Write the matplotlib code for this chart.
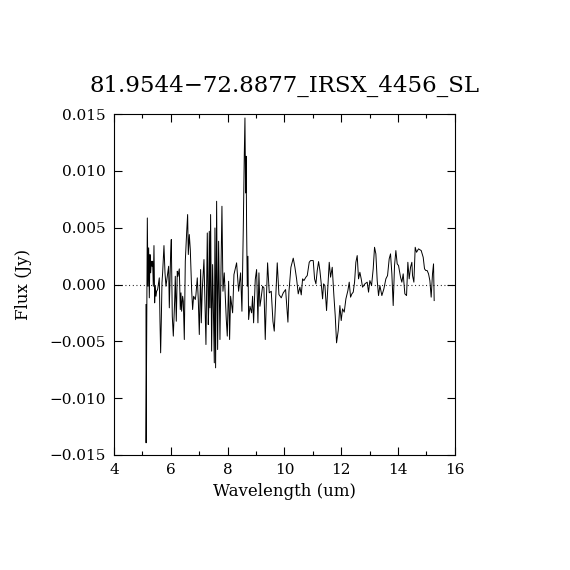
import numpy as np
import matplotlib
matplotlib.use("Agg")
import matplotlib.pyplot as plt
from matplotlib.ticker import MultipleLocator

# spectrum (wavelength in um, flux in mJy)
wave = [5.126, 5.13, 5.173, 5.196, 5.220, 5.243, 5.267, 5.290, 5.314, 5.337,
        5.360, 5.384, 5.407, 5.431, 5.454, 5.478, 5.501, 5.536, 5.572, 5.595,
        5.619, 5.642, 5.665, 5.689, 5.712, 5.736, 5.759, 5.795, 5.830, 5.877,
        5.923, 5.947, 5.994, 6.017, 6.052, 6.088, 6.135, 6.158, 6.193, 6.228,
        6.252, 6.299, 6.334, 6.357, 6.381, 6.416, 6.440, 6.475, 6.510, 6.557,
        6.592, 6.616, 6.651, 6.686, 6.733, 6.768, 6.803, 6.862, 6.885, 6.932,
        6.967, 7.003, 7.050, 7.073, 7.108, 7.167, 7.237, 7.284, 7.319, 7.337,
        7.355, 7.378, 7.401, 7.437, 7.472, 7.531, 7.554, 7.577, 7.613, 7.648,
        7.683, 7.730, 7.800, 7.836, 7.882, 7.953, 7.988, 8.035, 8.070, 8.105,
        8.176, 8.223, 8.316, 8.387, 8.457, 8.504, 8.551, 8.586, 8.610, 8.633,
        8.651, 8.668, 8.692, 8.715, 8.739, 8.786, 8.844, 8.879, 8.915, 8.973,
        9.020, 9.067, 9.102, 9.138, 9.173, 9.231, 9.278, 9.325, 9.360, 9.407,
        9.466, 9.536, 9.595, 9.642, 9.689, 9.747, 9.806, 9.888, 9.959, 10.041,
        10.123, 10.158, 10.228, 10.310, 10.369, 10.428, 10.486, 10.545, 10.592, 10.639,
        10.686, 10.756, 10.803, 10.873, 10.920, 11.014, 11.061, 11.108, 11.155, 11.202,
        11.249, 11.296, 11.343, 11.378, 11.425, 11.483, 11.542, 11.577, 11.624, 11.683,
        11.741, 11.788, 11.835, 11.894, 11.952, 11.999, 12.046, 12.105, 12.164, 12.234,
        12.281, 12.328, 12.375, 12.422, 12.469, 12.515, 12.562, 12.609, 12.656, 12.703,
        12.750, 12.832, 12.914, 12.961, 13.008, 13.067, 13.125, 13.172, 13.219, 13.266,
        13.313, 13.360, 13.430, 13.501, 13.571, 13.630, 13.688, 13.735, 13.782, 13.829,
        13.876, 13.923, 13.970, 14.017, 14.087, 14.134, 14.181, 14.240, 14.299, 14.345,
        14.392, 14.439, 14.486, 14.510, 14.557, 14.604, 14.651, 14.721, 14.815, 14.885,
        14.932, 14.979, 15.026, 15.073, 15.120, 15.166, 15.213, 15.249, 15.272]

flux_mjy = [-1.76, -13.93, 5.86, -0.15, 3.23, -1.17, 2.64, 1.03, 2.05, 1.61,
            2.05, -0.15, 3.43, -1.61, -0.15, -1.03, -0.59, -0.44, 0.15, 0.59,
            -3.23, -6.01, -3.23, 0.15, 1.03, 2.20, 3.43, 1.03, -0.15, 0.73,
            1.61, -2.05, 2.73, 3.96, -2.79, -4.54, -1.47, 0.73, -3.23, 1.17,
            0.73, 1.38, -2.20, -0.73, -2.35, -1.03, -1.47, -4.84, 2.05, 4.54,
            6.16, 2.64, 4.40, 3.08, -0.44, -2.20, -1.03, -1.32, -0.88, 0.59,
            -1.32, -4.40, 1.32, -3.37, -0.44, 2.20, -5.28, 4.54, -3.52, -1.91,
            4.69, -2.05, 6.16, -5.86, 1.76, -6.89, 4.98, -7.33, 7.33, -5.72,
            3.81, -4.84, 6.89, -0.59, 1.03, -3.08, -4.54, 0.29, -4.84, -1.03,
            -2.49, 0.88, 1.91, -0.59, 1.03, -2.35, 4.84, 11.29, 14.66, 8.06,
            11.29, 5.13, -0.15, 2.49, -3.08, -1.91, -2.49, -1.03, -3.37, 0.44,
            1.32, -3.37, 1.03, -1.91, -1.32, -0.15, -0.29, -4.84, -1.61, 1.91,
            -0.73, -0.59, -3.23, -4.10, -1.47, 1.91, -0.88, -1.17, -0.73, -0.44,
            -3.31, -0.67, 1.52, 2.32, 1.52, 0.50, -0.82, -0.23, -0.91, 0.50,
            0.35, 0.65, 0.79, 1.96, 2.11, 2.11, 0.50, 0.06, 1.23, 2.02,
            1.23, 0.06, -1.26, 0.06, -0.09, -2.29, 0.35, 1.96, 0.65, 1.52,
            -0.97, -2.73, -5.13, -4.05, -1.85, -3.17, -2.14, -2.43, -1.26, -0.53,
            0.21, -1.11, -0.82, -0.67, 0.21, 1.96, 2.55, 0.50, 1.08, 0.50,
            -0.23, 0.06, 0.21, -0.67, 0.35, -0.09, 1.38, 3.28, 2.70, 0.35,
            -0.97, -0.09, -0.97, -0.38, 0.50, 0.79, 2.26, 2.70, 0.94, -1.85,
            1.67, 2.99, 1.82, 1.67, 0.65, 0.21, 0.94, -0.82, -0.97, 1.96,
            0.50, 1.52, 1.96, 0.79, 0.21, 3.28, 2.84, 3.14, 2.99, 2.40,
            1.38, 1.23, 1.23, 0.94, 0.35, -1.11, 0.94, 1.82, -1.41]

flux = np.array(flux_mjy) * 1e-3

plt.rcParams['font.family'] = 'DejaVu Serif'

fig = plt.figure(figsize=(5.7, 5.7), dpi=100)
ax = fig.add_axes([0.2, 0.2018, 0.598, 0.598])

ax.plot(wave, flux, color='black', lw=0.7)
ax.axhline(0, color='black', lw=0.8, ls=(0, (0.8, 2.5)))

ax.set_xlim(4, 16)
ax.set_ylim(-0.015, 0.015)
ax.xaxis.set_major_locator(MultipleLocator(2))
ax.xaxis.set_minor_locator(MultipleLocator(1))
ax.set_yticks([-0.015, -0.010, -0.005, 0.0, 0.005, 0.010, 0.015])
ax.set_yticklabels(["\u22120.015", "\u22120.010", "\u22120.005", "0.000",
                    "0.005", "0.010", "0.015"])

ax.tick_params(which='both', direction='in', top=True, right=True,
               labelsize=11, width=0.8)
ax.tick_params(which='major', length=6, pad=6)
ax.tick_params(which='minor', length=3)
for s in ax.spines.values():
    s.set_linewidth(0.8)

ax.set_xlabel("Wavelength (um)", fontsize=12, labelpad=4)
ax.set_ylabel("Flux (Jy)", fontsize=12, labelpad=12)
ax.set_title("81.9544\u221272.8877_IRSX_4456_SL", fontsize=16.5, pad=16)

fig.savefig("out.png", dpi=100)
